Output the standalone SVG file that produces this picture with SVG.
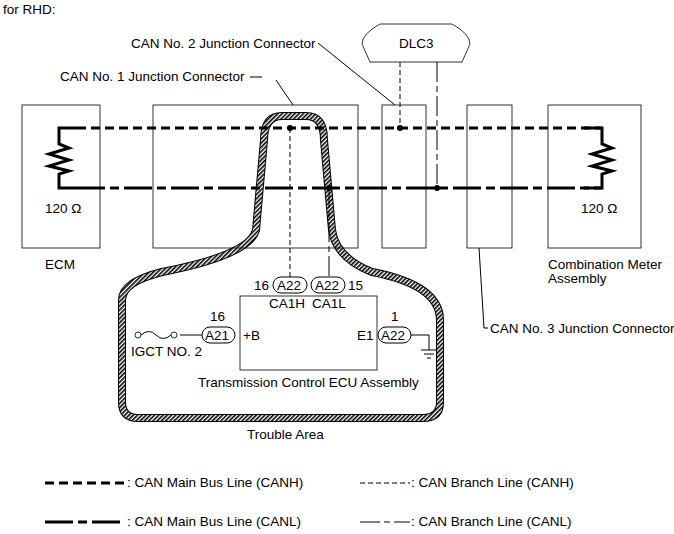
<svg xmlns="http://www.w3.org/2000/svg" width="674" height="534" viewBox="0 0 674 534">
<defs>
<pattern id="hatch" width="3" height="3" patternUnits="userSpaceOnUse" patternTransform="rotate(45)">
<rect width="3" height="3" fill="#fff"/><rect width="1.6" height="3" fill="#000"/>
</pattern>
</defs>
<style>
text{font-family:"Liberation Sans",Arial,sans-serif;font-size:13.5px;fill:#000}
.box{fill:none;stroke:#000;stroke-width:0.8}
.mh{fill:none;stroke:#000;stroke-width:3;stroke-dasharray:9 5}
.ml{fill:none;stroke:#000;stroke-width:3;stroke-dasharray:28 5 9 5}
.bh{fill:none;stroke:#000;stroke-width:1;stroke-dasharray:5 3}
.bl{fill:none;stroke:#000;stroke-width:1;stroke-dasharray:20 4 6 4}
.th{fill:none;stroke:#000;stroke-width:1}
.tt{fill:none;stroke:#000;stroke-width:3}
.conn{fill:#fff;stroke:#000;stroke-width:1}
</style>
<rect width="674" height="534" fill="#fff"/>
<text x="3" y="14">for RHD:</text>
<g id="trouble">
<path d="M264,140 Q264,116 282,116 L306,116 Q324,116 324,140 L332,230 Q336,258 372,272 Q440,285 440,320 L440,402 Q440,418 423,418 L138,418 Q122,418 122,402 L122,300 Q122,282 162,272 Q250,255 256,230 Z" fill="none" stroke="#000" stroke-width="8"/>
<path d="M264,140 Q264,116 282,116 L306,116 Q324,116 324,140 L332,230 Q336,258 372,272 Q440,285 440,320 L440,402 Q440,418 423,418 L138,418 Q122,418 122,402 L122,300 Q122,282 162,272 Q250,255 256,230 Z" fill="none" stroke="url(#hatch)" stroke-width="6"/>
</g>
<g id="ecm"><rect class="box" x="22" y="105" width="78" height="143"/><text x="45" y="213">120 Ω</text><text x="45" y="269">ECM</text></g>
<g id="jc1"><rect class="box" x="153" y="105" width="205" height="143"/></g>
<g id="jc2"><rect class="box" x="382" y="105" width="44" height="143"/></g>
<g id="jc3"><rect class="box" x="467" y="105" width="45" height="143"/></g>
<g id="meter"><rect class="box" x="548" y="105" width="93" height="143"/><text x="581" y="213">120 Ω</text><text x="548" y="269">Combination Meter</text><text x="548" y="283">Assembly</text></g>
<g id="dlc3"><path class="box" d="M380,24 L452,24 Q470,34 470,44 L462,62 L370,62 L362,44 Q362,34 380,24 Z"/><text x="399" y="48">DLC3</text></g>
<g id="connectors">
<path class="mh" d="M77,128 L602,128"/>
<path class="ml" d="M77,188 L602,188"/>
<path class="tt" d="M77,128 L59,128 L59,144 L69,148 L49,154 L69,160 L49,166 L69,171 L59,174 L59,188 L77,188"/>
<path class="tt" d="M584,128 L602,128 L602,144 L612,148 L592,154 L612,160 L592,166 L612,171 L602,174 L602,188 L584,188"/>
<path class="bh" d="M400,62 L400,128"/>
<path class="bl" d="M437,62 L437,188"/>
<path class="bh" d="M290,128 L290,277"/>
<path class="bl" d="M329,188 L329,277"/>
<circle cx="290" cy="128" r="3"/><circle cx="400" cy="128" r="3"/><circle cx="329" cy="188" r="3"/><circle cx="437" cy="188" r="3"/>
<path class="th" d="M318,43 L395,105"/>
<path class="th" d="M250,77 L262,77 M276,80 L293,105"/>
<path class="th" d="M479,248 L484,328 L488,328"/>
<path class="th" d="M180,335 L202,335"/>
<path class="th" d="M411,335 L429,335 L429,350"/>
<path class="th" d="M421,350 L437,350 M424,354 L434,354 M427,358 L431,358"/>
</g>
<text x="131" y="48">CAN No. 2 Junction Connector</text>
<text x="60" y="81">CAN No. 1 Junction Connector</text>
<text x="490" y="333">CAN No. 3 Junction Connector</text>
<g id="ecu">
<rect class="box" x="240" y="296" width="137" height="74"/>
<rect class="conn" x="273" y="277" width="34" height="16" rx="8"/><text x="277" y="290">A22</text>
<rect class="conn" x="311" y="277" width="34" height="16" rx="8"/><text x="315" y="290">A22</text>
<text x="254" y="290">16</text><text x="348" y="290">15</text>
<text x="269" y="308">CA1H</text><text x="312" y="308">CA1L</text>
<rect class="conn" x="202" y="327" width="33" height="16" rx="8"/><text x="205" y="340">A21</text>
<text x="210" y="321">16</text><text x="243" y="340">+B</text>
<rect class="conn" x="378" y="327" width="33" height="16" rx="8"/><text x="381" y="340">A22</text>
<text x="391" y="321">1</text><text x="357" y="340">E1</text>
<text x="198" y="387">Transmission Control ECU Assembly</text>
</g>
<g id="fuse">
<circle cx="138" cy="335" r="3" fill="#fff" stroke="#000" stroke-width="0.8"/>
<circle cx="174" cy="335" r="3" fill="#fff" stroke="#000" stroke-width="0.8"/>
<path class="th" d="M141,335 Q149,328 156,335 Q163,342 171,335"/>
<text x="131" y="356">IGCT NO. 2</text>
</g>
<text x="247" y="439">Trouble Area</text>
<g id="legend">
<path class="mh" d="M45,483 L125,483"/><text x="127" y="487">: CAN Main Bus Line (CANH)</text>
<path class="ml" d="M45,522 L125,522"/><text x="127" y="526">: CAN Main Bus Line (CANL)</text>
<path class="bh" d="M360,483 L410,483"/><text x="411" y="487">: CAN Branch Line (CANH)</text>
<path class="bl" d="M360,522 L410,522"/><text x="411" y="526">: CAN Branch Line (CANL)</text>
</g>
</svg>
